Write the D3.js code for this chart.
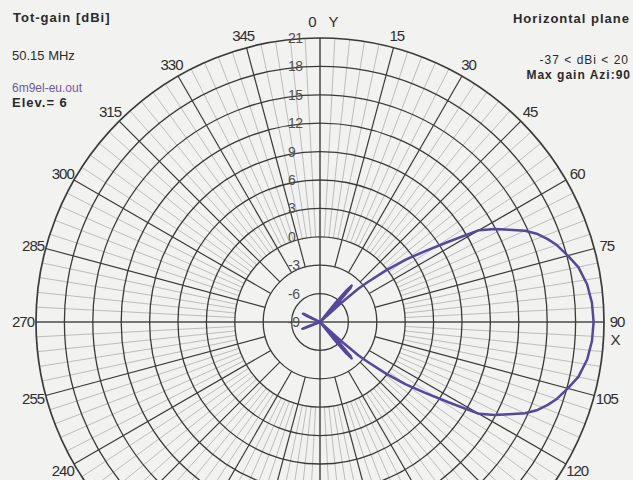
<!DOCTYPE html>
<meta charset="utf-8">
<style>
body { margin: 0; background: #f2f2f0; }
svg { display: block; font-family: "Liberation Sans", Arial, sans-serif; }
.ring { fill: none; stroke: #3a3a3a; stroke-width: 1.3px; }
.spoke { stroke: #3a3a3a; stroke-width: 1.2px; }
.fine { stroke: #bdbdbb; stroke-width: 1px; }
.axis { stroke: #4a4a4a; stroke-width: 1.5px; }
.pattern { fill: none; stroke: #5646a0; stroke-width: 2.5px; stroke-linejoin: round; }
.rlab { font-size: 14px; fill: #505050; letter-spacing: -0.5px; }
.alab { font-size: 15px; fill: #2e2e2e; letter-spacing: -1px; }
.head { font-size: 13px; font-weight: bold; fill: #2a2a2a; letter-spacing: 1px; }
</style>
<body>
<script src="https://d3js.org/d3.v7.min.js"></script>
<script>

// azimuth (deg) and total gain (dBi)
var azi = [0, 10, 20, 30, 36, 38, 39, 40, 41, 42, 43, 44, 45, 47, 48, 49, 50, 52, 54, 56, 58, 60,
           62, 64, 66, 68, 70, 72, 75, 78, 82, 86, 90, 94, 98, 102, 105, 108, 110, 112, 114, 116,
           118, 120, 122, 124, 126, 128, 130, 131, 132, 133, 135, 136, 137, 138, 139, 140, 141,
           142, 144, 150, 160, 180, 220, 240, 244, 246, 248, 249, 250, 252, 256, 270, 288, 292,
           294, 296, 297, 298, 300, 304, 330];
var gain = [-28, -25, -22, -18, -14, -9.5, -6.5, -4.6, -3.9, -4.2, -6, -9, -15, -12, -6, -3.6, -2.5,
            -0.1, 2.2, 4.4, 7.0, 10.4, 11.9, 13.2, 14.7, 15.8, 16.6, 17.3, 18.1, 18.9, 19.5, 19.8,
            19.9, 19.8, 19.5, 18.9, 18.1, 17.3, 16.6, 15.8, 14.7, 13.2, 11.9, 10.4, 7.0, 4.4, 2.2,
            -0.1, -2.5, -3.6, -6, -12, -15, -9, -6, -4.2, -3.9, -4.6, -6.5, -9.5, -14, -18, -22,
            -28, -30, -25, -12, -8.5, -7.2, -7.0, -7.5, -10, -20, -30, -20, -10, -7.5, -7.0, -7.2,
            -8.5, -12, -25, -28];

var ringLevels = [-6, -3, 0, 3, 6, 9, 12, 15, 18, 21];
var ringLabels = ["21", "18", "15", "12", "9", "6", "3", "0", "-3", "-6", "-9"];
var aziTicks = [15, 30, 45, 60, 75, 90, 105, 120, 135, 150, 165, 180, 195, 210, 225, 240, 255, 270, 285, 300, 315, 330, 345];

var width = 633, height = 480;
var cx = 320, cy = 322, R = 284;

var svg = d3.select("body").append("svg")
    .attr("width", width)
    .attr("height", height);

var r = d3.scaleLinear().domain([-9, 21]).range([0, R]).clamp(true);

var g = svg.append("g").attr("transform", "translate(" + cx + "," + cy + ")");

function px(a, rad) { return rad * Math.sin(a * Math.PI / 180); }
function py(a, rad) { return -rad * Math.cos(a * Math.PI / 180); }

// light radials every 3 deg
var fineAngles = d3.range(0, 360, 3).filter(function(a) { return a % 15 != 0; });
g.selectAll(".fine")
    .data(fineAngles)
  .enter().append("line")
    .attr("class", "fine")
    .attr("x1", function(a) { return px(a, r(0)); })
    .attr("y1", function(a) { return py(a, r(0)); })
    .attr("x2", function(a) { return px(a, R); })
    .attr("y2", function(a) { return py(a, R); });

// dark radials every 15 deg
g.selectAll(".spoke")
    .data(aziTicks.filter(function(a) { return a % 90 != 0; }))
  .enter().append("line")
    .attr("class", "spoke")
    .attr("x1", function(a) { return px(a, r(-3)); })
    .attr("y1", function(a) { return py(a, r(-3)); })
    .attr("x2", function(a) { return px(a, R); })
    .attr("y2", function(a) { return py(a, R); });

// main axes
g.append("line").attr("class", "axis").attr("x1", -R).attr("x2", R).attr("y1", 0).attr("y2", 0);
g.append("line").attr("class", "axis").attr("x1", 0).attr("x2", 0).attr("y1", -R).attr("y2", R);

// rings
g.selectAll(".ring")
    .data(ringLevels)
  .enter().append("circle")
    .attr("class", "ring")
    .attr("r", function(d) { return r(d); })
    .style("stroke-width", function(d) { return d == 21 ? "1.7px" : null; });

// ring labels
g.selectAll(".rlab")
    .data(ringLabels)
  .enter().append("text")
    .attr("class", "rlab")
    .attr("x", -32)
    .attr("y", function(d) { return -r(+d); })
    .attr("dy", "0.36em")
    .text(function(d) { return d; });

// azimuth labels (only the ones that fall inside the picture)
var labR = 297;
g.selectAll(".alab")
    .data(aziTicks.filter(function(a) { return cy + py(a, labR) < height - 4; }))
  .enter().append("text")
    .attr("class", "alab")
    .attr("text-anchor", "middle")
    .attr("x", function(a) { return px(a, labR); })
    .attr("y", function(a) { return py(a, labR); })
    .attr("dy", "0.36em")
    .text(function(a) { return a; });

g.append("text").attr("class", "alab").attr("text-anchor", "middle")
    .attr("x", -8).attr("y", -labR - 3).attr("dy", "0.36em").text("0");
g.append("text").attr("class", "alab").attr("text-anchor", "middle")
    .attr("x", 13).attr("y", -labR - 3).attr("dy", "0.36em").text("Y");
g.append("text").attr("class", "alab").attr("text-anchor", "middle")
    .attr("x", labR - 2).attr("y", 18).attr("dy", "0.36em").text("X");

// the pattern
var data = azi.map(function(a, i) { return {a: a, g: gain[i]}; });
var line = d3.lineRadial()
    .angle(function(d) { return d.a * Math.PI / 180; })
    .radius(function(d) { return r(d.g); })
    .curve(d3.curveLinearClosed);

g.append("path")
    .datum(data)
    .attr("class", "pattern")
    .attr("d", line);

// header texts
svg.append("text").attr("class", "head").attr("x", 13).attr("y", 22).text("Tot-gain [dBi]");
svg.append("text").attr("x", 12).attr("y", 60)
    .style("font-size", "13px").style("fill", "#2a2a2a").text("50.15 MHz");
svg.append("text").attr("x", 12).attr("y", 92)
    .style("font-size", "12px").style("fill", "#6f5a9a").text("6m9el-eu.out");
svg.append("text").attr("class", "head").attr("x", 12).attr("y", 107).text("Elev.= 6");

svg.append("text").attr("class", "head").attr("x", 630).attr("y", 23)
    .attr("text-anchor", "end").text("Horizontal plane");
svg.append("text").attr("x", 629).attr("y", 64).attr("text-anchor", "end")
    .style("font-size", "12px").style("fill", "#2a2a2a").style("letter-spacing", "1px")
    .text("-37 < dBi < 20");
svg.append("text").attr("class", "head").attr("x", 631).attr("y", 79)
    .style("font-size", "12px")
    .attr("text-anchor", "end").text("Max gain Azi:90");

</script>
</body>
